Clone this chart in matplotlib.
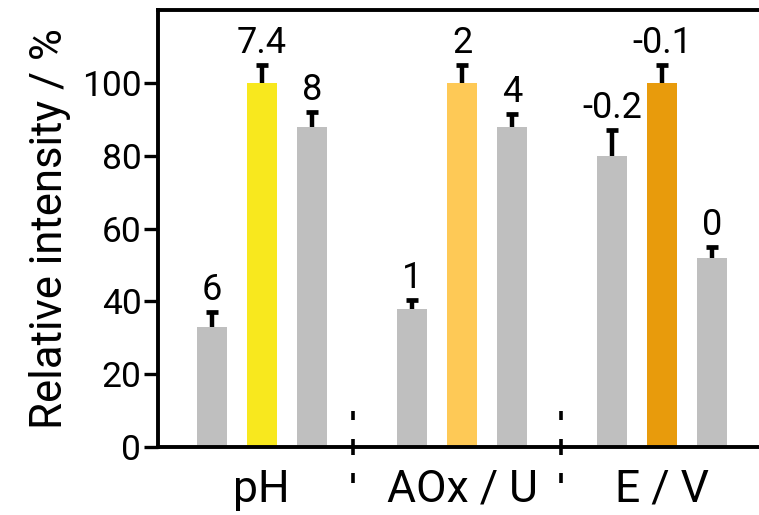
import matplotlib
matplotlib.use("Agg")
import matplotlib.pyplot as plt
import numpy as np

plt.rcParams['font.family'] = ['Roboto', 'DejaVu Sans']

# data
groups = ['pH', 'AOx / U', 'E / V']
bar_labels = ['6', '7.4', '8', '1', '2', '4', '-0.2', '-0.1', '0']
values = [33, 100, 88, 38, 100, 88, 80, 100, 52]
errors = [4, 5, 4, 2.5, 5, 3.5, 7, 5, 3]
bar_pos = [0, 1, 2, 4, 5, 6, 8, 9, 10]
group_pos = [1, 5, 9]
separators = [2.82, 6.97]

gray = '#bfbfbf'
colors = [gray, '#f8e81e', gray, gray, '#fec956', gray, gray, '#e89b0c', gray]

fig = plt.figure(figsize=(7.59, 5.15), dpi=100)
ax = fig.add_axes([158 / 759, 1 - 447 / 515, 1 - 158 / 759, (447 - 10) / 515])

ax.bar(bar_pos, values, width=0.6, color=colors, zorder=2)
eb = ax.errorbar(bar_pos, values, yerr=[np.zeros(len(errors)), errors], fmt='none',
                 ecolor='black', elinewidth=3.2, capsize=4, capthick=3.4, zorder=3)
# only the upper cap is drawn in the original
eb[1][0].set_visible(False)

for x, v, e, lab in zip(bar_pos, values, errors, bar_labels):
    ax.annotate(lab, xy=(x, v + e), xytext=(0, 8.5), textcoords='offset points',
                ha='center', va='baseline', fontsize=26)

ax.set_xlim(-1.07, 10.93)
ax.set_ylim(0, 120)
ax.set_yticks([0, 20, 40, 60, 80, 100])
ax.tick_params(axis='y', labelsize=25.5, length=10, width=2.4, pad=2)
ax.set_xticks([])

# dotted group separators crossing the x axis
for x in separators:
    for y0, y1 in [(7.4, 9.9), (-2.2, 2.2), (-7.1, -9.9)]:
        ax.plot([x, x], [y0, y1], color='black', lw=2.6, clip_on=False,
                solid_capstyle='butt', zorder=4)

for x, g in zip(group_pos, groups):
    ax.text(x, -15, g, ha='center', va='baseline', fontsize=32)

for side in ['left', 'bottom', 'top']:
    ax.spines[side].set_linewidth(2.8)
ax.spines['right'].set_visible(False)

ax.set_ylabel('Relative intensity / %', fontsize=31.5, labelpad=8)

fig.savefig('out.png', dpi=100)
